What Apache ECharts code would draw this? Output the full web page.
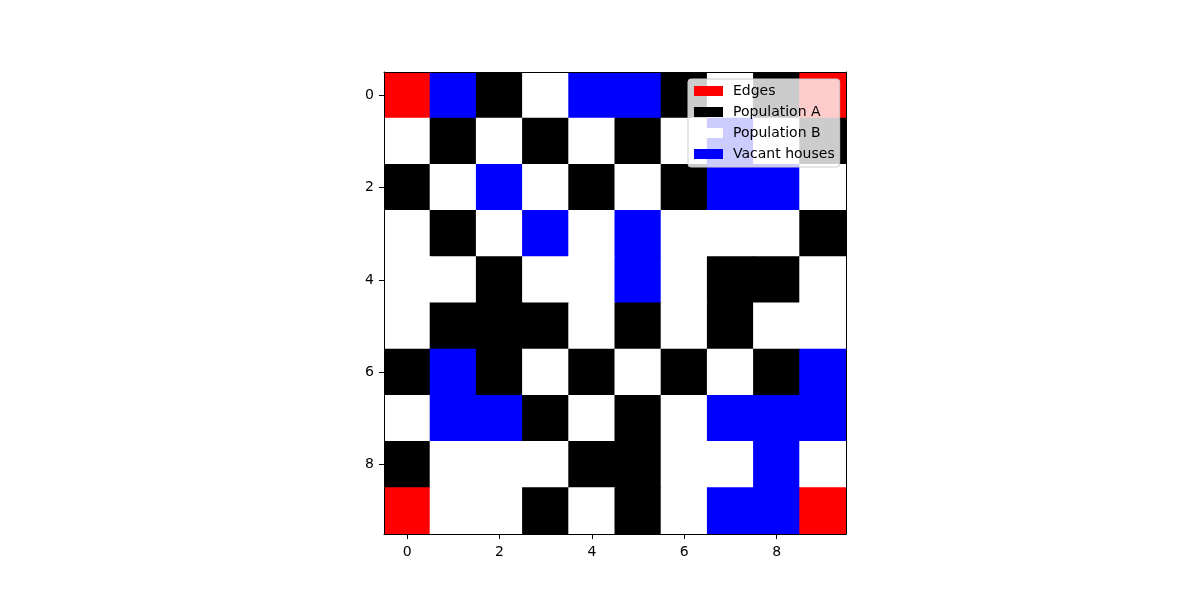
<!DOCTYPE html>
<html>
<head>
<meta charset="utf-8">
<script src="https://cdn.jsdelivr.net/npm/echarts@6/dist/echarts.min.js"></script>
<style>html,body{margin:0;padding:0;background:#fff}#c{width:1200px;height:600px}</style>
</head>
<body>
<div id="c"></div>
<script>
// Codes: 0 = Population B, 1 = Population A, 2 = Vacant houses, 3 = Edges
const xCategories = ['0','1','2','3','4','5','6','7','8','9'];
const yCategories = ['0','1','2','3','4','5','6','7','8','9'];
const row0 = [3,2,1,0,2,2,1,0,1,3];
const row1 = [0,1,0,1,0,1,0,2,0,1];
const row2 = [1,0,2,0,1,0,1,2,2,0];
const row3 = [0,1,0,2,0,2,0,0,0,1];
const row4 = [0,0,1,0,0,2,0,1,1,0];
const row5 = [0,1,1,1,0,1,0,1,0,0];
const row6 = [1,2,1,0,1,0,1,0,1,2];
const row7 = [0,2,2,1,0,1,0,2,2,2];
const row8 = [1,0,0,0,1,1,0,0,2,0];
const row9 = [3,0,0,1,0,1,0,2,2,3];
const rows = [row0,row1,row2,row3,row4,row5,row6,row7,row8,row9];
const legendNames = ['Edges','Population A','Population B','Vacant houses'];
const legendCodes = [3,1,0,2];
const codeColors = {0:'#ffffff',1:'#000000',2:'#0000ff',3:'#ff0000'};

const data = [];
rows.forEach((r, yi) => r.forEach((v, xi) => data.push([xi, yi, v])));

const font = 'DejaVu Sans';
const chart = echarts.init(document.getElementById('c'), null, {renderer:'canvas'});
const axisCommon = {
  type: 'category',
  boundaryGap: true,
  z: 10,
  axisLine: {show: true, lineStyle: {color: '#000', width: 1}},
  splitLine: {show: false},
  splitArea: {show: false}
};
const dummy = legendNames.map((n, i) => ({
  name: n, type: 'scatter', data: [], xAxisIndex: 0, yAxisIndex: 0,
  itemStyle: {color: codeColors[legendCodes[i]], opacity: 1}
}));
chart.setOption({
  animation: false,
  backgroundColor: '#fff',
  grid: {left: 384, top: 72, width: 462, height: 462, containLabel: false},
  xAxis: [
    Object.assign({}, axisCommon, {
      position: 'bottom', data: xCategories,
      axisTick: {show: true, alignWithLabel: true, interval: 1, length: 5, lineStyle: {color: '#000'}},
      axisLabel: {interval: 1, color: '#000', fontFamily: font, fontSize: 14, margin: 11}
    }),
    Object.assign({}, axisCommon, {
      position: 'top', data: xCategories,
      axisTick: {show: false}, axisLabel: {show: false}
    })
  ],
  yAxis: [
    Object.assign({}, axisCommon, {
      position: 'left', data: yCategories, inverse: true,
      axisTick: {show: true, alignWithLabel: true, interval: 1, length: 5, lineStyle: {color: '#000'}},
      axisLabel: {interval: 1, color: '#000', fontFamily: font, fontSize: 14, margin: 10}
    }),
    Object.assign({}, axisCommon, {
      position: 'right', data: yCategories, inverse: true,
      axisTick: {show: false}, axisLabel: {show: false}
    })
  ],
  legend: {
    orient: 'vertical', left: 688, top: 79,
    data: legendNames,
    icon: 'rect', itemWidth: 29, itemHeight: 10, itemGap: 7,
    padding: [5, 5, 6, 6],
    backgroundColor: 'rgba(255,255,255,0.8)',
    borderColor: '#cccccc', borderWidth: 1, borderRadius: 3,
    textStyle: {fontFamily: font, fontSize: 14, color: '#000', lineHeight: 14, padding: [0,0,0,5]},
    selectedMode: false,
    z: 20
  },
  series: [{
    type: 'custom',
    data: data,
    xAxisIndex: 0, yAxisIndex: 0,
    renderItem: function (params, api) {
      const p = api.coord([api.value(0), api.value(1)]);
      const s = api.size([1, 1]);
      return {
        type: 'rect',
        shape: {x: p[0] - s[0] / 2 - 0.5, y: p[1] - s[1] / 2 - 0.5, width: s[0] + 1, height: s[1] + 1},
        style: {fill: codeColors[api.value(2)], stroke: null}
      };
    },
    clip: true,
    silent: true
  }].concat(dummy)
});
</script>
</body>
</html>
